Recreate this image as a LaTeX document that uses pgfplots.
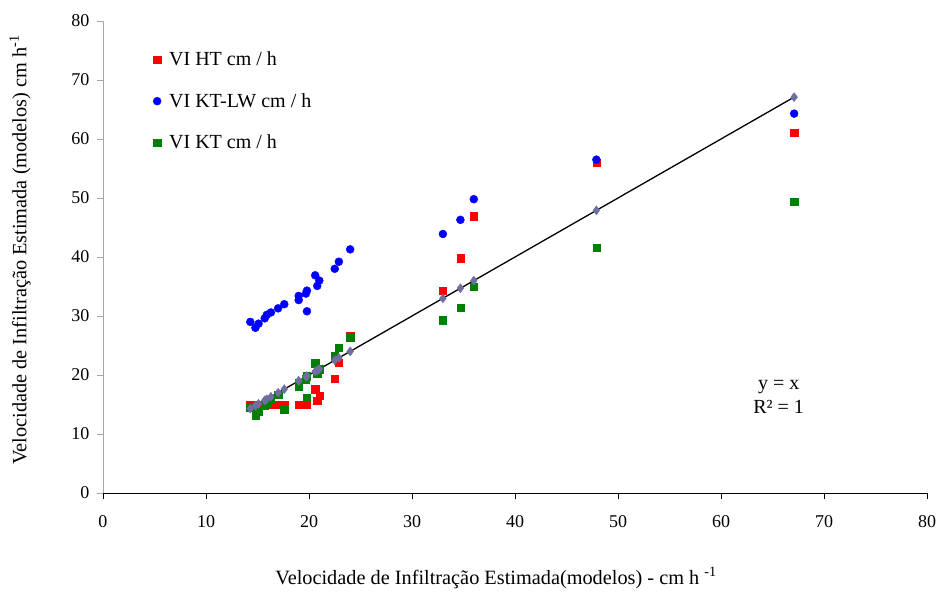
\documentclass[border=0pt]{standalone}
\usepackage{pgfplots}
\pgfplotsset{compat=1.18}
\usepackage{pgfplotstable}
\usepackage{fontspec}
\setmainfont{Liberation Serif}
\definecolor{cHT}{RGB}{255,0,0}
\definecolor{cLW}{RGB}{0,0,255}
\definecolor{cKT}{RGB}{0,128,0}
\definecolor{cDia}{RGB}{110,110,160}
\pgfplotstableread{
x     ht    ktlw  kt
14.3  15.0  29.0  14.4
14.8  15.0  28.0  13.1
15.1  15.0  28.7  13.8
15.7  15.0  29.6  14.8
15.9  15.0  30.2  15.4
16.3  15.0  30.6  15.8
17.0  15.0  31.3  16.6
17.6  15.0  32.0  14.2
19.0  15.0  32.7  18.1
19.0  15.0  33.4  18.6
19.7  15.0  33.8  19.3
19.8  15.0  34.3  19.8
19.8  15.2  30.8  16.2
20.6  17.6  36.9  22.0
20.8  15.6  35.1  20.3
21.0  16.5  36.0  21.0
22.5  19.4  38.0  23.2
22.9  22.1  39.2  24.6
24.0  26.7  41.3  26.4
33.0  34.3  43.9  29.3
34.7  39.8  46.3  31.4
36.0  46.9  49.8  34.9
47.9  56.0  56.5  41.6
67.1  61.1  64.3  49.4
}\datatable
\begin{document}
\begin{tikzpicture}
\begin{axis}[
  scale only axis,
  width=824pt, height=472pt,
  xmin=0, xmax=80, ymin=0, ymax=80,
  xtick={0,10,...,80}, ytick={0,10,...,80},
  xticklabels={0,10,20,30,40,50,60,70,80},
  yticklabels={0,10,20,30,40,50,60,70,80},
  axis x line*=bottom, axis y line*=left,
  x axis line style={black, line width=0.8pt, -},
  y axis line style={black!35, line width=0.8pt, -},
  tick align=outside, major tick length=6pt,
  xtick style={black, line width=0.8pt},
  ytick style={black!35, line width=0.8pt},
  ticklabel style={font=\fontsize{18}{20}\selectfont},
  xticklabel style={yshift=-13pt},
  yticklabel style={xshift=-4pt},
  legend style={draw=none, fill=none, font=\fontsize{20}{22}\selectfont,
    at={(0.057,0.943)}, anchor=north west, row sep=22pt, column sep=6pt,
    legend cell align=left},
  legend image code/.code={\draw[#1] plot coordinates {(0.15cm,0cm)};},
]
\addplot[only marks, mark=square*, mark size=3.6pt, color=cHT] table[x=x, y=ht] {\datatable};
\addlegendentry{VI HT cm / h}
\addplot[only marks, mark=*, mark size=4pt, color=cLW] table[x=x, y=ktlw] {\datatable};
\addlegendentry{VI KT-LW cm / h}
\addplot[only marks, mark=square*, mark size=3.6pt, color=cKT] table[x=x, y=kt] {\datatable};
\addlegendentry{VI KT cm / h}
\addplot[only marks, mark=diamond*, mark size=4.5pt, color=cDia, forget plot] table[x=x, y=x] {\datatable};
\addplot[black, line width=1.3pt, forget plot] coordinates {(14.3,14.3) (67.1,67.1)};
\node[font=\fontsize{20}{22}\selectfont, align=center] at (axis cs:65.6,16.3) {y = x\\[2pt]R² = 1};
\end{axis}
\node[rotate=90, font=\fontsize{20.3}{22}\selectfont] at (-83pt,243pt) {Velocidade de Infiltração Estimada (modelos) cm h\textsuperscript{-1}};
\node[font=\fontsize{20.3}{22}\selectfont] at (393pt,-85pt) {Velocidade de Infiltração Estimada(modelos) - cm h \textsuperscript{-1}};
\pgfresetboundingbox
\path (-103pt,-99pt) rectangle (837pt,493pt);
\end{tikzpicture}
\end{document}
